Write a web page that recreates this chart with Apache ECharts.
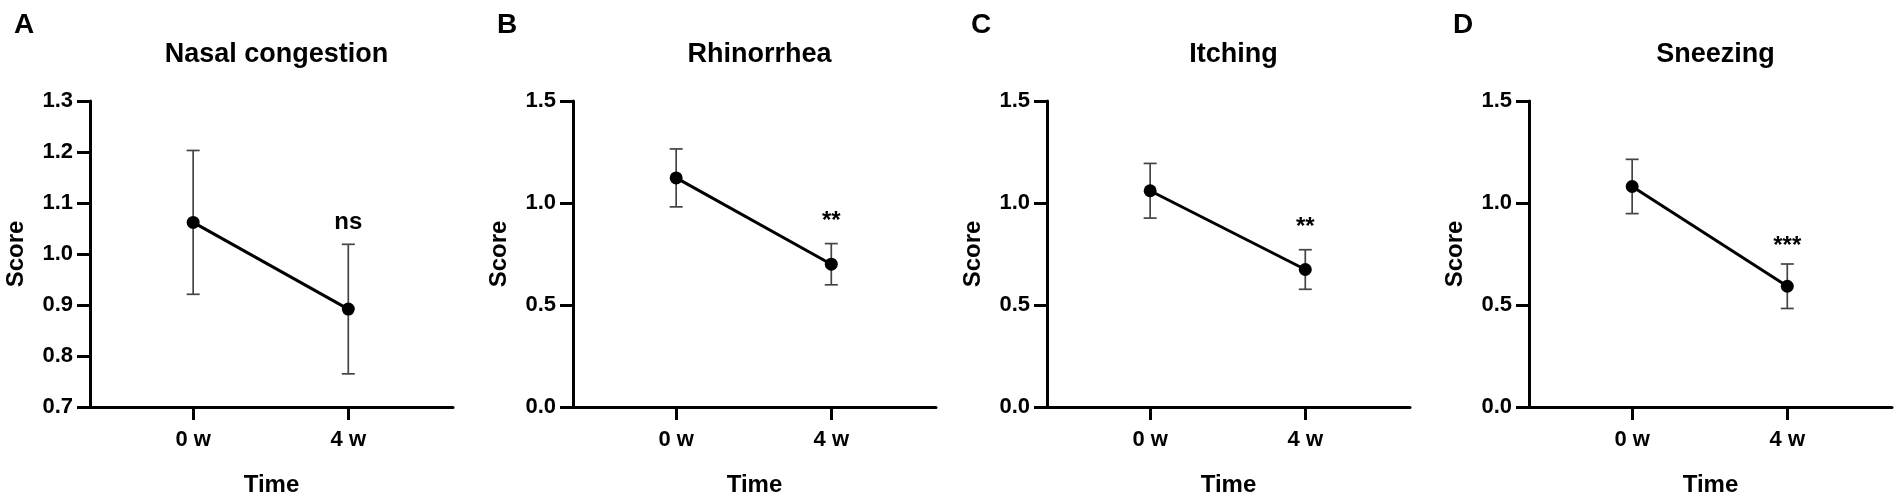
<!DOCTYPE html>
<html>
<head>
<meta charset="utf-8">
<script src="https://cdn.jsdelivr.net/npm/echarts@6/dist/echarts.min.js"></script>
<style>
  html, body { margin: 0; padding: 0; background: #fff; }
  #main { width: 1902px; height: 502px; }
</style>
</head>
<body>
<div id="main"></div>
<script>
// panel data
var panelLetters = ['A', 'B', 'C', 'D'];
var panelTitles = ['Nasal congestion', 'Rhinorrhea', 'Itching', 'Sneezing'];
var timeLabels = ['0 w', '4 w'];

var nasalMean = [1.062, 0.892];
var nasalErr = [0.141, 0.127];
var rhinoMean = [1.123, 0.700];
var rhinoErr = [0.142, 0.101];
var itchMean = [1.060, 0.674];
var itchErr = [0.134, 0.097];
var sneezeMean = [1.081, 0.592];
var sneezeErr = [0.133, 0.109];

var sigLabels = ['ns', '**', '**', '***'];

var yMin = [0.7, 0, 0, 0];
var yMax = [1.3, 1.5, 1.5, 1.5];
var yStep = [0.1, 0.5, 0.5, 0.5];

var means = [nasalMean, rhinoMean, itchMean, sneezeMean];
var errs = [nasalErr, rhinoErr, itchErr, sneezeErr];

var font = 'Liberation Sans, Arial, Helvetica, sans-serif';
var gridLeft = [90, 573, 1047, 1529];
var gridW = 363, gridTop = 101, gridH = 307;

var chart = echarts.init(document.getElementById('main'));

var grids = [], xAxes = [], yAxes = [], series = [], titles = [];

for (var i = 0; i < 4; i++) {
    grids.push({left: gridLeft[i], top: gridTop, width: gridW, height: gridH});

    titles.push({
        text: panelLetters[i],
        left: gridLeft[i] - 81, top: 6,
        textStyle: {fontFamily: font, fontSize: 28, fontWeight: 'bold', color: '#000'}
    });
    titles.push({
        text: panelTitles[i],
        left: gridLeft[i] + gridW / 2, top: 36, textAlign: 'center',
        textStyle: {fontFamily: font, fontSize: 27, fontWeight: 'bold', color: '#000'}
    });

    xAxes.push({
        gridIndex: i, type: 'value', min: -0.665, max: 1.675,
        name: 'Time', nameLocation: 'middle', nameGap: 66,
        nameTextStyle: {fontFamily: font, fontSize: 24, fontWeight: 'bold', color: '#000'},
        splitLine: {show: false},
        axisLine: {show: true, onZero: false, lineStyle: {color: '#000', width: 3}},
        axisTick: {show: true, customValues: [0, 1], length: 13, lineStyle: {color: '#000', width: 3}},
        axisLabel: {
            customValues: [0, 1], margin: 22,
            formatter: function (v) { return timeLabels[Math.round(v)]; },
            fontFamily: font, fontSize: 22, fontWeight: 'bold', color: '#000'
        }
    });

    yAxes.push({
        gridIndex: i, type: 'value', min: yMin[i], max: yMax[i], interval: yStep[i],
        name: 'Score', nameLocation: 'middle', nameGap: 62,
        nameTextStyle: {fontFamily: font, fontSize: 24, fontWeight: 'bold', color: '#000'},
        splitLine: {show: false},
        axisLine: {show: true, onZero: false, lineStyle: {color: '#000', width: 3}},
        axisTick: {show: true, length: 13, lineStyle: {color: '#000', width: 3}},
        axisLabel: {
            margin: 17,
            formatter: function (v) { return v.toFixed(1); },
            fontFamily: font, fontSize: 22, fontWeight: 'bold', color: '#000'
        }
    });

    var m = means[i], e = errs[i];
    var barData = [], lineData = [];
    for (var k = 0; k < m.length; k++) {
        lineData.push([k, m[k]]);
        barData.push([k, m[k] - e[k], m[k] + e[k]]);
    }

    // error bars
    series.push({
        type: 'custom', xAxisIndex: i, yAxisIndex: i, z: 1, clip: false,
        data: barData,
        encode: {x: 0, y: [1, 2]},
        renderItem: function (params, api) {
            var x = api.value(0);
            var top = api.coord([x, api.value(2)]);
            var bot = api.coord([x, api.value(1)]);
            var hw = 6.5;
            var st = {stroke: '#444', lineWidth: 1.7};
            return {
                type: 'group',
                children: [
                    {type: 'line', shape: {x1: top[0], y1: top[1], x2: bot[0], y2: bot[1]}, style: st},
                    {type: 'line', shape: {x1: top[0] - hw, y1: top[1], x2: top[0] + hw, y2: top[1]}, style: st},
                    {type: 'line', shape: {x1: bot[0] - hw, y1: bot[1], x2: bot[0] + hw, y2: bot[1]}, style: st}
                ]
            };
        }
    });

    // mean line
    series.push({
        type: 'line', xAxisIndex: i, yAxisIndex: i, z: 3,
        data: lineData,
        symbol: 'circle', symbolSize: 13,
        itemStyle: {color: '#000'},
        lineStyle: {color: '#000', width: 3}
    });

    // significance mark above the 4 w error bar
    series.push({
        type: 'scatter', xAxisIndex: i, yAxisIndex: i, z: 4,
        symbolSize: 0,
        itemStyle: {color: '#000', opacity: 1},
        data: [[1, m[1] + e[1]]],
        label: {
            show: true, position: 'top', distance: i === 3 ? 6 : 10,
            formatter: sigLabels[i],
            fontFamily: font, fontSize: 24, fontWeight: 'bold', color: '#000'
        }
    });
}

chart.setOption({
    animation: false,
    backgroundColor: '#fff',
    title: titles,
    grid: grids,
    xAxis: xAxes,
    yAxis: yAxes,
    series: series
});
</script>
</body>
</html>
